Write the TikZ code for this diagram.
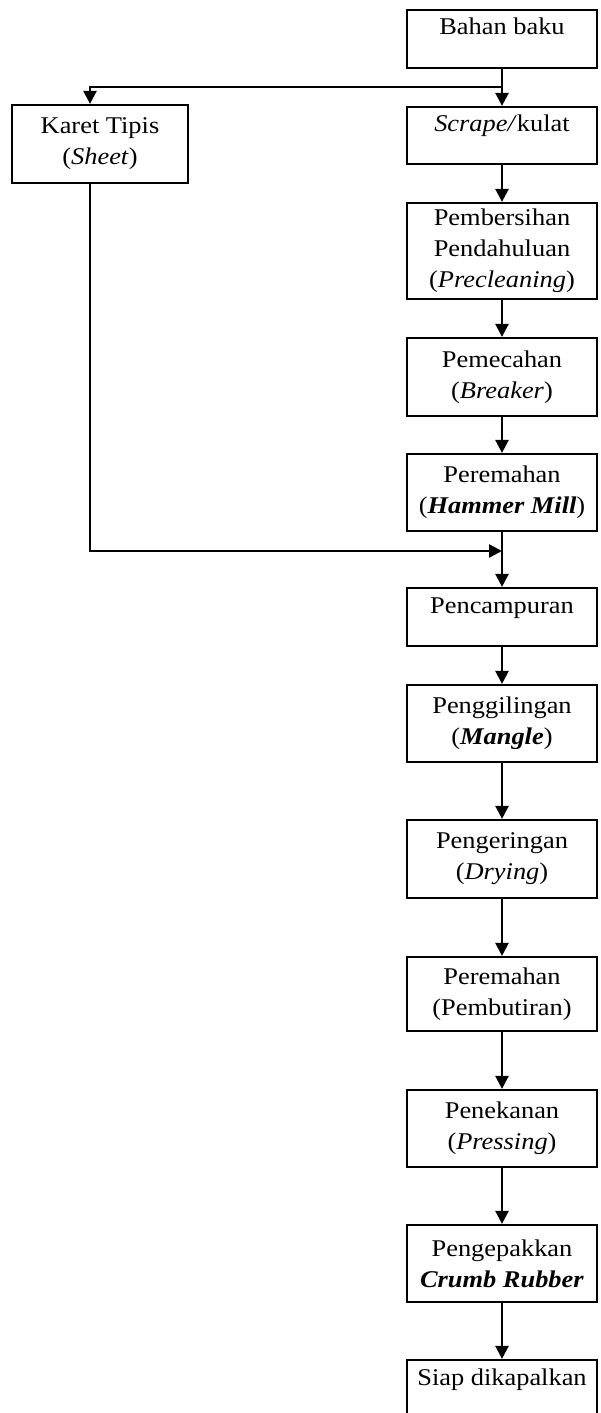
\documentclass[tikz,border=0pt]{standalone}
\usepackage{fontspec}
\setmainfont{Liberation Serif}[FakeStretch=1.1]
\usetikzlibrary{arrows.meta}
\tikzset{
  procbox/.style={draw, line width=2.2pt, minimum width=190pt, align=center, inner sep=2pt},
  topbox/.style={procbox, minimum height=58pt, text height=16pt, text depth=24pt},
  flow/.style={line width=2.4pt, -{Triangle[length=13pt,width=13pt]}}
}
\begin{document}
\begin{tikzpicture}[x=1pt,y=-1pt,font=\fontsize{24}{31}\selectfont]
\useasboundingbox (0,0) rectangle (600,1413);
\clip (0,0) rectangle (600,1413);
% main line
\node[topbox] (baku) at (502,39) {Bahan baku};
\node[topbox, minimum height=57pt] (scrape) at (502,135.5) {\textit{Scrape/}kulat};
\node[procbox, minimum height=96pt] (preclean) at (502,251) {Pembersihan\\Pendahuluan\\(\textit{Precleaning})};
\node[procbox, minimum height=78pt] (breaker) at (502,377) {Pemecahan\\(\textit{Breaker})};
\node[procbox, minimum height=77pt] (hammer) at (502,492.5) {Peremahan\\(\textbf{\textit{Hammer Mill}})};
\node[topbox] (mix) at (502,617) {Pencampuran};
\node[procbox, minimum height=77pt] (mangle) at (502,723.5) {Penggilingan\\(\textbf{\textit{Mangle}})};
\node[procbox, minimum height=78pt] (drying) at (502,859) {Pengeringan\\(\textit{Drying})};
\node[procbox, minimum height=74pt] (granule) at (502,994) {Peremahan\\(Pembutiran)};
\node[procbox, minimum height=77pt] (press) at (502,1128.5) {Penekanan\\(\textit{Pressing})};
\node[procbox, minimum height=77pt] (pack) at (502,1263.5) {Pengepakkan\\\textbf{\textit{Crumb Rubber}}};
\node[topbox] (ship) at (502,1389) {Siap dikapalkan};
% side line
\node[procbox, minimum width=176pt, minimum height=78pt] (sheet) at (100,144) {Karet Tipis\\(\textit{Sheet})};
\coordinate (split) at (502,87);
\coordinate (merge) at (502,551);
\draw[flow] (baku) -- (scrape);
\draw[flow] (split) -| ([xshift=-10pt]sheet.north);
\draw[flow] ([xshift=-10pt]sheet.south) |- (merge);
\draw[flow] (scrape) -- (preclean);
\draw[flow] (preclean) -- (breaker);
\draw[flow] (breaker) -- (hammer);
\draw[flow] (hammer) -- (mix);
\draw[flow] (mix) -- (mangle);
\draw[flow] (mangle) -- (drying);
\draw[flow] (drying) -- (granule);
\draw[flow] (granule) -- (press);
\draw[flow] (press) -- (pack);
\draw[flow] (pack) -- (ship);
\end{tikzpicture}
\end{document}
